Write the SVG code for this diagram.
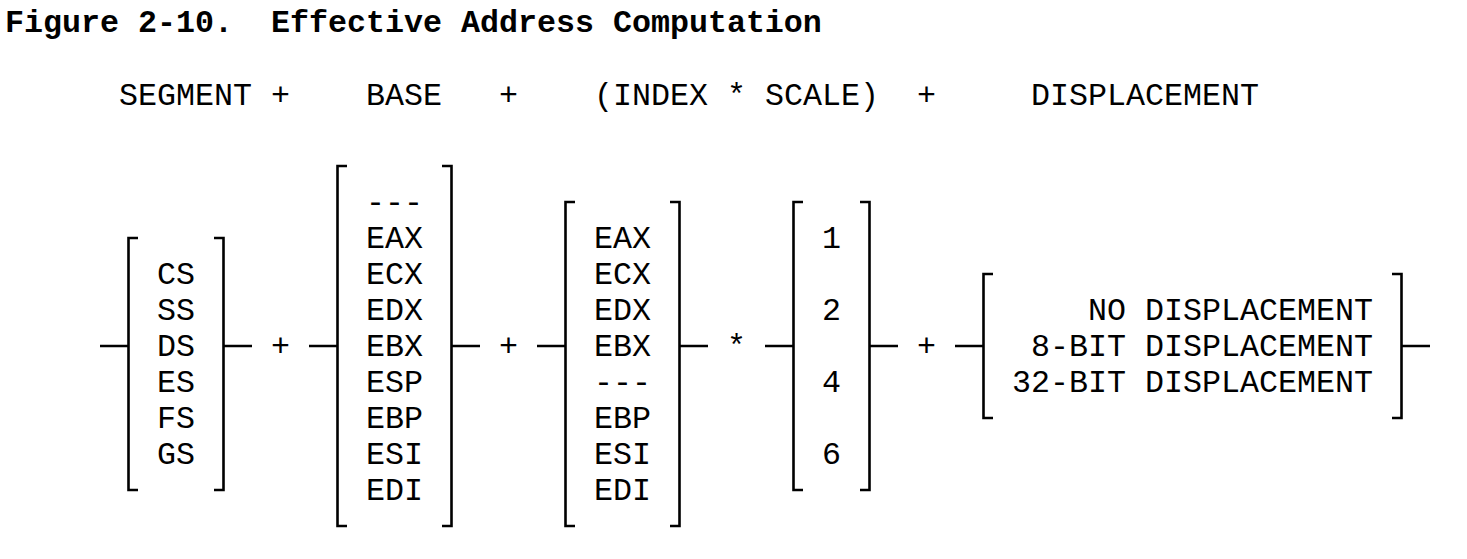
<svg xmlns="http://www.w3.org/2000/svg" width="1467" height="559" viewBox="0 0 1467 559">
<style>
text{font-family:"Liberation Mono","Courier New",monospace;font-size:31.667px;fill:#000}
.title{font-weight:bold;white-space:pre}
.end{text-anchor:end}
.br{fill:none;stroke:#000;stroke-width:2.6;stroke-linecap:butt;stroke-linejoin:miter}
.cn{fill:none;stroke:#000;stroke-width:2.6}
</style>
<rect width="1467" height="559" fill="#fff"/>
<text class="title" x="5" y="31.5" xml:space="preserve">Figure 2-10.  Effective Address Computation</text>
<g id="header">
<text x="119" y="104.5">SEGMENT</text>
<text x="271" y="104.5">+</text>
<text x="366" y="104.5">BASE</text>
<text x="499" y="104.5">+</text>
<text x="594" y="104.5">(INDEX * SCALE)</text>
<text x="917" y="104.5">+</text>
<text x="1031" y="104.5">DISPLACEMENT</text>
</g>
<g id="connectors">
<path class="cn" d="M100 346H128.5M223.5 346H252M309 346H337.5M451.5 346H480M537 346H565.5M679.5 346H708M765 346H793.5M869.5 346H898M955 346H983.5M1401.5 346H1430"/>
</g>
<g id="operators">
<text x="271" y="356">+</text>
<text x="499" y="356">+</text>
<text x="727" y="356">*</text>
<text x="917" y="356">+</text>
</g>
<g id="segment">
<path class="br" d="M138 238H128.5V490H138M214 238H223.5V490H214"/>
<text x="157" y="284">CS</text>
<text x="157" y="320">SS</text>
<text x="157" y="356">DS</text>
<text x="157" y="392">ES</text>
<text x="157" y="428">FS</text>
<text x="157" y="464">GS</text>
</g>
<g id="base">
<path class="br" d="M347 166H337.5V526H347M442 166H451.5V526H442"/>
<text x="366" y="212">---</text>
<text x="366" y="248">EAX</text>
<text x="366" y="284">ECX</text>
<text x="366" y="320">EDX</text>
<text x="366" y="356">EBX</text>
<text x="366" y="392">ESP</text>
<text x="366" y="428">EBP</text>
<text x="366" y="464">ESI</text>
<text x="366" y="500">EDI</text>
</g>
<g id="index">
<path class="br" d="M575 202H565.5V526H575M670 202H679.5V526H670"/>
<text x="594" y="248">EAX</text>
<text x="594" y="284">ECX</text>
<text x="594" y="320">EDX</text>
<text x="594" y="356">EBX</text>
<text x="594" y="392">---</text>
<text x="594" y="428">EBP</text>
<text x="594" y="464">ESI</text>
<text x="594" y="500">EDI</text>
</g>
<g id="scale">
<path class="br" d="M803 202H793.5V490H803M860 202H869.5V490H860"/>
<text x="822" y="248">1</text>
<text x="822" y="320">2</text>
<text x="822" y="392">4</text>
<text x="822" y="464">6</text>
</g>
<g id="displacement">
<path class="br" d="M993 274H983.5V418H993M1392 274H1401.5V418H1392"/>
<text class="end" x="1373" y="320">NO DISPLACEMENT</text>
<text class="end" x="1373" y="356">8-BIT DISPLACEMENT</text>
<text class="end" x="1373" y="392">32-BIT DISPLACEMENT</text>
</g>
</svg>
